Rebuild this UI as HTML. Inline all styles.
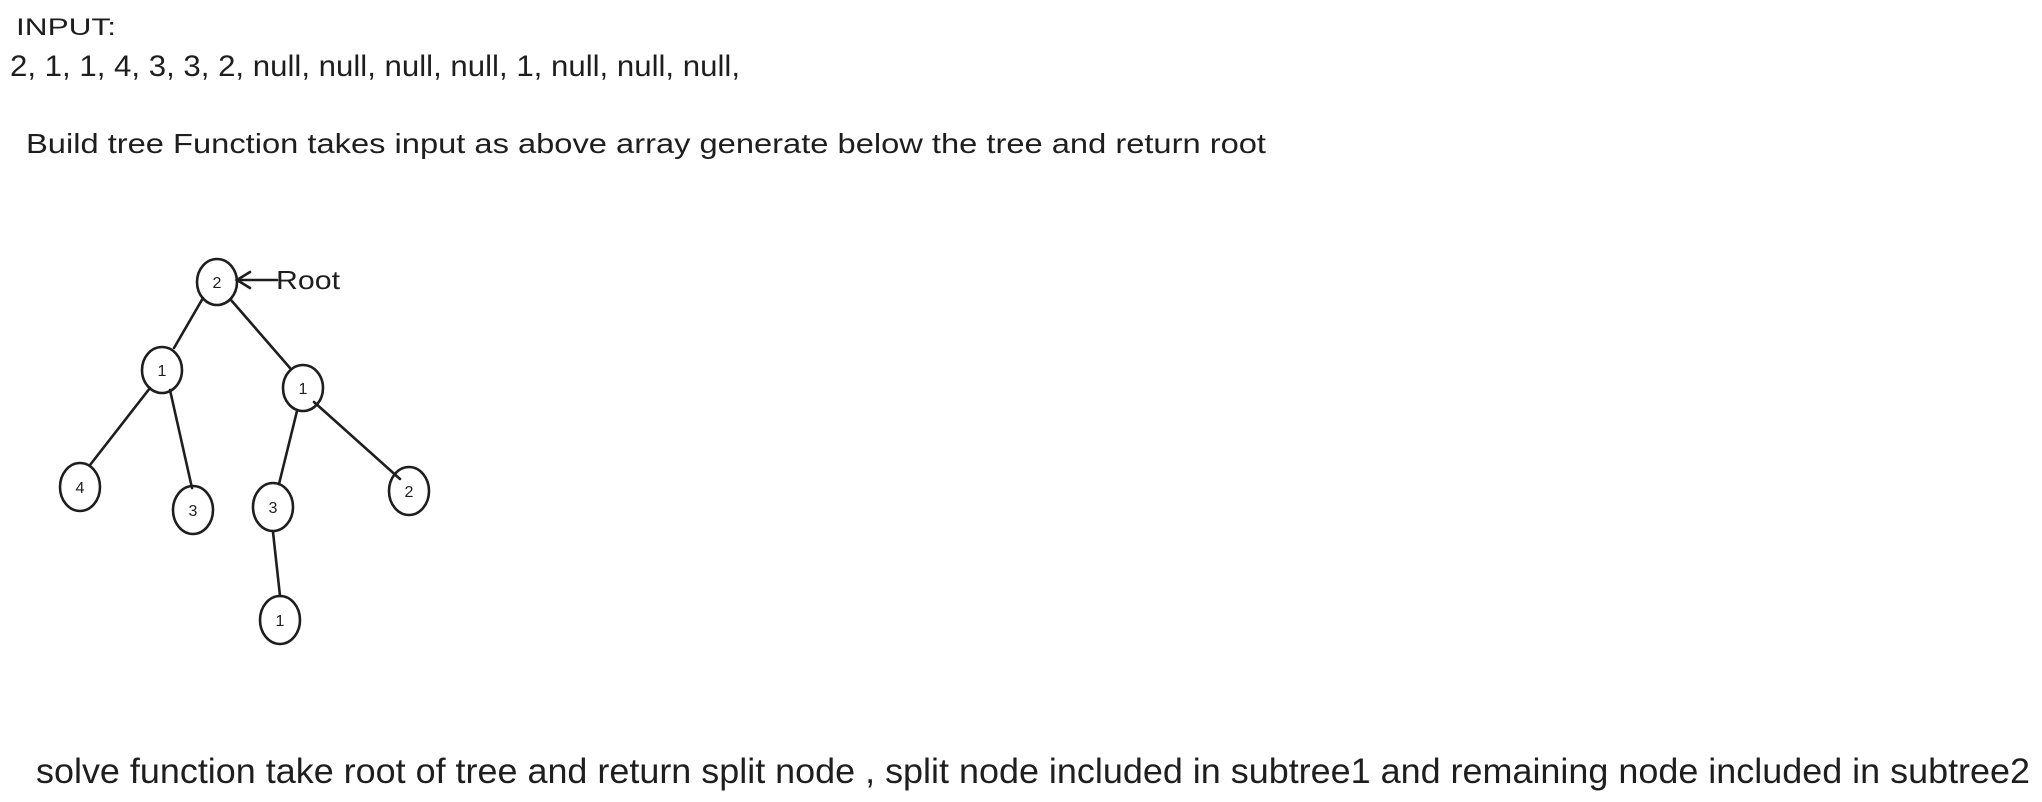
<!DOCTYPE html>
<html><head><style>
html,body{margin:0;padding:0;background:#fff;width:2042px;height:802px;overflow:hidden}
svg{display:block}
.h{font-family:"Liberation Sans",sans-serif;fill:#1e1e1e}
</style></head><body>
<svg width="2042" height="802" viewBox="0 0 2042 802" xmlns="http://www.w3.org/2000/svg">
<text class="h" x="16" y="35" font-size="24" textLength="100" lengthAdjust="spacingAndGlyphs">INPUT:</text>
<text class="h" x="10" y="76" font-size="30" textLength="730" lengthAdjust="spacingAndGlyphs">2, 1, 1, 4, 3, 3, 2, null, null, null, null, 1, null, null, null,</text>
<text class="h" x="26" y="153" font-size="28" textLength="1240" lengthAdjust="spacingAndGlyphs">Build tree Function takes input as above array generate below the tree and return root</text>
<g stroke="#1e1e1e" stroke-width="2.6" fill="none" stroke-linecap="round">
<line x1="203" y1="298" x2="174" y2="348"/>
<line x1="231" y1="300" x2="290" y2="368"/>
<line x1="150" y1="388" x2="90" y2="465"/>
<line x1="170" y1="390" x2="192" y2="488"/>
<line x1="297" y1="411" x2="279" y2="484"/>
<line x1="314" y1="402" x2="400" y2="479"/>
<line x1="273" y1="532" x2="280" y2="596"/>
<line x1="277" y1="280" x2="237" y2="280"/>
<polyline points="250,272 237,280 250,288"/>
<ellipse cx="217" cy="282" rx="20" ry="23"/>
<ellipse cx="162" cy="370" rx="20" ry="23"/>
<ellipse cx="303" cy="388" rx="20" ry="23"/>
<ellipse cx="80" cy="487" rx="20" ry="24"/>
<ellipse cx="193" cy="510" rx="20" ry="24"/>
<ellipse cx="273" cy="507" rx="20" ry="24"/>
<ellipse cx="409" cy="491" rx="20" ry="24"/>
<ellipse cx="280" cy="620" rx="20" ry="24"/>
</g>
<g class="h" font-size="16" text-anchor="middle">
<text x="217" y="288">2</text>
<text x="162" y="376">1</text>
<text x="303" y="394">1</text>
<text x="80" y="493">4</text>
<text x="193" y="516">3</text>
<text x="273" y="513">3</text>
<text x="409" y="497">2</text>
<text x="280" y="626">1</text>
</g>
<text class="h" x="276" y="289" font-size="26" textLength="64" lengthAdjust="spacingAndGlyphs">Root</text>
<text x="36" y="783" font-family="Liberation Sans,sans-serif" font-size="35" fill="#1e1e1e" textLength="1994" lengthAdjust="spacingAndGlyphs">solve function take root of tree and return split node , split node included in subtree1 and remaining node included in subtree2</text>
</svg>
</body></html>
